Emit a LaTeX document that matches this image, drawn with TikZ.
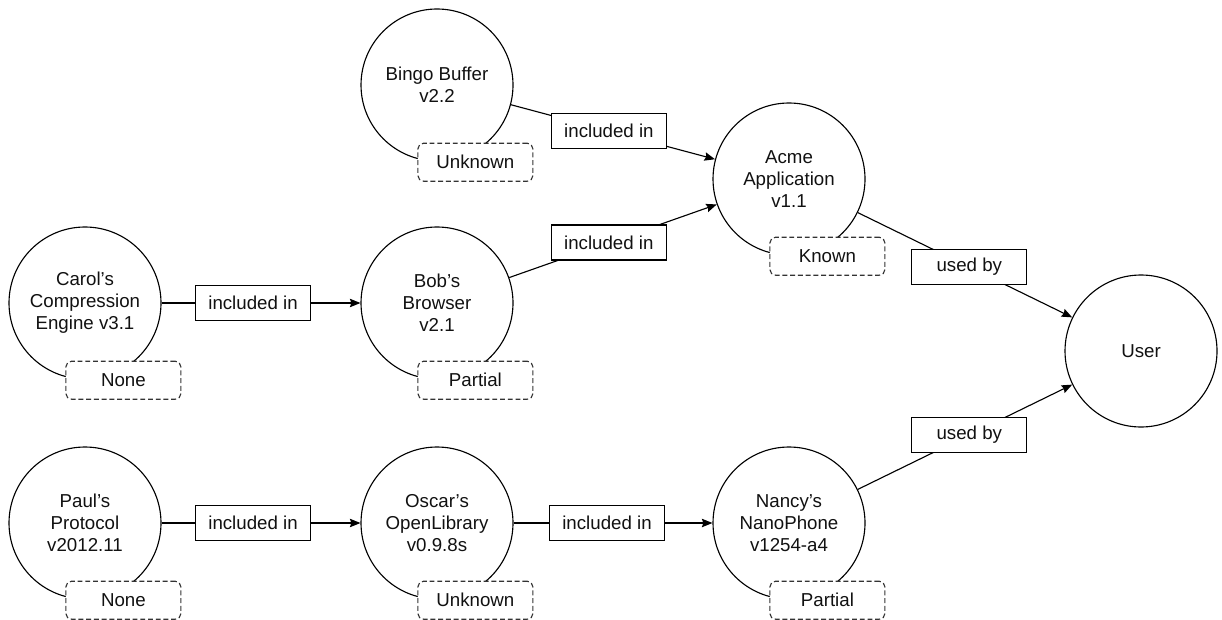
\documentclass[tikz,border=0pt]{standalone}
\usepackage{fontspec}
\setmainfont{Liberation Sans}
\usetikzlibrary{arrows.meta, positioning}
\usepackage{xcolor}
\definecolor{linedark}{RGB}{0, 0, 0}
\definecolor{textdark}{RGB}{17, 17, 17}
\definecolor{dashgrey}{RGB}{51, 51, 51}

\begin{document}
\begin{tikzpicture}[
    component/.style={circle, draw=linedark, fill=white, minimum size=3.8cm, inner sep=0pt, align=center, font=\fontsize{13.3}{15.6}\selectfont, text=textdark, line width=0.8pt},
    status/.style={rectangle, draw=dashgrey, dash pattern=on 3.5pt off 2pt, rounded corners=4pt, fill=white, minimum width=2.875cm, minimum height=0.95cm, inner sep=0pt, font=\fontsize{13.3}{15.6}\selectfont, text=textdark, line width=0.8pt},
    relation/.style={rectangle, draw=linedark, fill=white, minimum width=2.875cm, minimum height=0.875cm, inner sep=0pt, font=\fontsize{13.3}{15.6}\selectfont, text=textdark, line width=0.8pt},
    arrow/.style={-{Stealth[length=7.5pt, width=6pt, inset=1pt]}, line width=0.8pt, color=linedark},
    link/.style={line width=0.8pt, color=linedark}
]
\useasboundingbox (0, 0) rectangle (30.55, -15.475);

% Components
\node[component] (bingo) at (10.925, -2.125) {Bingo Buffer\\v2.2};
\node[component] (acme) at (19.725, -4.475) {Acme\\Application\\v1.1};
\node[component] (carol) at (2.125, -7.575) {Carol’s\\Compression\\Engine v3.1};
\node[component] (bob) at (10.925, -7.575) {Bob’s\\Browser\\v2.1};
\node[component] (user) at (28.525, -8.775) {User};
\node[component] (paul) at (2.125, -13.075) {Paul’s\\Protocol\\v2012.11};
\node[component] (oscar) at (10.925, -13.075) {Oscar’s\\OpenLibrary\\v0.9.8s};
\node[component] (nancy) at (19.725, -13.075) {Nancy’s\\NanoPhone\\v1254-a4};

% Status tags
\node[status, shift={(0.96, -1.93)}] (bingostat) at (bingo) {Unknown};
\node[status, shift={(0.96, -1.93)}] (acmestat) at (acme) {Known};
\node[status, shift={(0.96, -1.93)}] (carolstat) at (carol) {None};
\node[status, shift={(0.96, -1.93)}] (bobstat) at (bob) {Partial};
\node[status, shift={(0.96, -1.93)}] (paulstat) at (paul) {None};
\node[status, shift={(0.96, -1.93)}] (oscarstat) at (oscar) {Unknown};
\node[status, shift={(0.96, -1.93)}] (nancystat) at (nancy) {Partial};

% Arrows
\draw[arrow] (bingo) -- node[relation, pos=0.48] {included in} (acme);
\draw[arrow] (bob) -- node[relation, pos=0.48] {included in} (acme);
\draw[arrow] (carol) -- node[relation, pos=0.46] {included in} (bob);
\draw[arrow] (paul) -- node[relation, pos=0.46] {included in} (oscar);
\draw[arrow] (oscar) -- node[relation, pos=0.47] {included in} (nancy);
\draw[arrow] (acme) -- node[relation, pos=0.52] {used by} (user);
\draw[arrow] (nancy) -- node[relation, pos=0.52] {used by} (user);

\end{tikzpicture}
\end{document}
